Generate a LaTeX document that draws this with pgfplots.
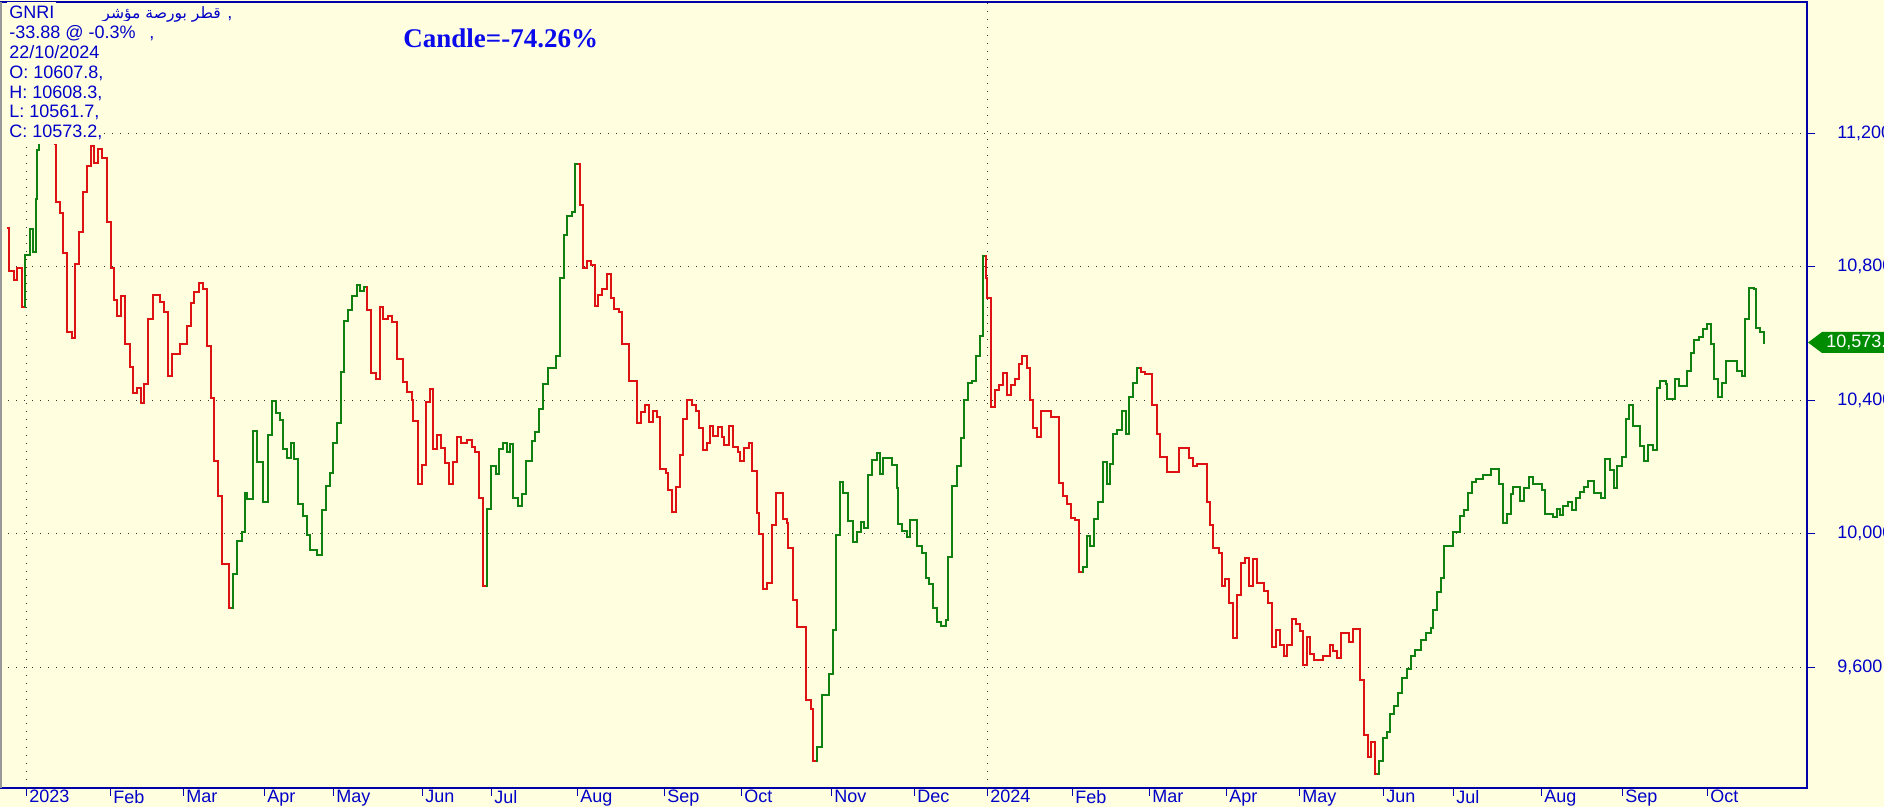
\documentclass[border=0pt]{standalone}
\usepackage{pgfplots}
\pgfplotsset{compat=1.18}
\usepackage{fontspec}
\setmainfont{Liberation Sans}
\newfontfamily\candlefont{Liberation Serif}
\newfontfamily\arabicfont[Script=Arabic]{DejaVu Sans}
\TeXXeTstate=1

\definecolor{bg}{RGB}{255,255,224}
\definecolor{upgreen}{RGB}{16,128,16}
\definecolor{downred}{RGB}{222,18,18}
\definecolor{labelblue}{RGB}{0,0,200}
\definecolor{candleblue}{RGB}{10,10,235}
\definecolor{axisblue}{RGB}{0,0,170}
\definecolor{taggreen}{RGB}{0,140,0}

\newcommand{\lbl}{\fontsize{9}{10.5}\selectfont}

\begin{document}
\begin{tikzpicture}[x=0.5pt,y=0.5pt]
% page = 1884 x 807 px, 1 px = 0.5pt
\fill[bg] (0,0) rectangle (1884,807);

\begin{axis}[
    at={(0pt,9.5pt)}, anchor=south west,
    scale only axis, width=903.5pt, height=393pt,
    xmin=0, xmax=1807, ymin=9237.5, ymax=11594,
    axis background/.style={fill=bg},
    axis line style={draw=axisblue, line width=1pt},
    xtick={26,110,183,264,333,422,491,577,664,741,831,914,987,1072,1149,1226,1299,1383,1453,1541,1622,1707},
    xticklabels={2023,Feb,Mar,Apr,May,Jun,Jul,Aug,Sep,Oct,Nov,Dec,2024,Feb,Mar,Apr,May,Jun,Jul,Aug,Sep,Oct},
    xtick pos=left, xticklabel pos=left,
    ytick={9600,10000,10400,10800,11200},
    yticklabels={{9,600},{10,000},{10,400},{10,800},{11,200}},
    ytick pos=right, yticklabel pos=right,
    tick align=outside, major tick length=4pt,
    tick style={draw=axisblue, line width=0.5pt},
    xticklabel shift=-3pt,
    yticklabel shift=11pt,
    x tick label style={anchor=north west, inner sep=0pt, xshift=1.5pt, font=\lbl, text=labelblue},
    y tick label style={anchor=west, inner sep=0pt, font=\lbl, text=labelblue},
    ymajorgrids,
    extra x ticks={26,987}, extra x tick labels={},
    extra x tick style={xmajorgrids=true, major tick length=0pt},
    grid style={draw=black!80, line width=0.5pt, dash pattern=on 0.5pt off 3.5pt},
    every axis plot/.append style={line width=1pt, const plot},
]
% red = falling phase, green = rising phase; x = pixel column of the bar
\addplot[downred] coordinates {
(7.3,10917) (9.3,10787) (14.3,10760) (17.3,10796) (21.7,10680) (25,10680)
};
\addplot[upgreen] coordinates {
(25,10680) (25.1,10834) (30,10912) (33,10845) (36,11002) (37.3,11150) (39.3,11230)
(42,11290) (46,11320) (49,11320)
};
\addplot[downred] coordinates {
(49,11320) (52,11250) (55,11169) (56,10995) (60,10961) (63.3,10841) (67.3,10606)
(71.7,10586) (75,10807) (79.3,10904) (82.7,11024) (87.3,11102) (90.7,11162)
(94.3,11111) (98.3,11153) (102.3,11126) (106.7,10934) (110.7,10796) (114,10700)
(117.3,10653) (121.3,10713) (125.3,10570) (130,10499) (133.3,10421) (137.3,10438)
(141,10391) (144.3,10450) (148.3,10643) (153.3,10716) (160,10696) (164,10666)
(167.7,10472) (171.7,10539) (180,10570) (186.7,10622) (190.7,10693) (194.3,10724)
(198.7,10751) (203.3,10733) (207.3,10563) (210.7,10407) (214,10217) (218.3,10112)
(221.7,9909) (229.3,9777) (231.3,9777)
};
\addplot[upgreen] coordinates {
(231.3,9777) (233.3,9879) (237.3,9978) (242.3,10005) (245,10123) (247.3,10103)
(252.7,10308) (256.7,10214) (263.3,10094) (267.5,10297) (271.7,10398) (276,10362)
(280,10342) (283.3,10255) (286.7,10228) (290.7,10273) (294.3,10224) (298.3,10090)
(302.7,10053) (306.7,9996) (310,9951) (316.7,9935) (321.7,10070) (325.7,10143)
(330,10181) (333.3,10271) (336.7,10331) (340.7,10485) (344,10637) (348.3,10670)
(352.3,10713) (356.7,10747) (360,10727) (364,10740) (366.7,10740)
};
\addplot[downred] coordinates {
(366.7,10740) (367.3,10670) (371,10483) (375.7,10465) (380,10680) (383.3,10643)
(388.3,10652) (392.3,10635) (396.7,10525) (402.7,10456) (407.3,10425) (411.7,10402)
(413.3,10338) (418.3,10150) (422,10206) (425.7,10395) (430,10434) (432.7,10253)
(436.7,10297) (440.7,10257) (445,10213) (449,10150) (452.7,10214) (456.7,10291)
(460.7,10271) (467.3,10280) (472.3,10261) (475,10244) (479.3,10106) (483.3,9844)
(485.7,9844)
};
\addplot[upgreen] coordinates {
(485.7,9844) (486.7,10074) (491.3,10204) (495.7,10180) (498.7,10255) (503.3,10271)
(506.7,10244) (510,10268) (513.3,10107) (517.7,10083) (522,10120) (525.7,10217)
(531.7,10277) (535,10304) (539.3,10375) (543.3,10448) (548.3,10496) (556,10532)
(560.3,10767) (563.7,10894) (567.3,10952) (571.7,10965) (575,11109) (578.3,11109)
};
\addplot[downred] coordinates {
(578.3,11109) (580,10984) (583.3,10796) (587.3,10818) (590.7,10804) (595,10684)
(598.3,10716) (601.7,10733) (607.3,10778) (610.7,10707) (614.3,10673) (619.3,10664)
(622.3,10569) (629.3,10458) (636.7,10331) (640.7,10365) (645.3,10387) (648.7,10335)
(652.7,10369) (657.3,10351) (660,10193) (665.7,10183) (667.7,10130) (671.7,10065)
(675.7,10141) (680,10237) (683.3,10344) (686.7,10402) (691.7,10385) (695.7,10369)
(699,10318) (702.7,10251) (706.7,10273) (710,10322) (713.3,10294) (718.3,10320)
(721.7,10291) (724,10267) (729.3,10324) (733.3,10261) (738.3,10244) (740,10217)
(744.3,10257) (749,10271) (752.3,10187) (756.7,10063) (759.3,10000) (763.3,9835)
(767.3,9851) (771.7,10026) (776,10123) (782.7,10045) (786.7,10032) (788.3,9956)
(793.3,9801) (797.3,9721) (806,9500) (810.7,9473) (813.3,9319) (815.7,9319)
};
\addplot[upgreen] coordinates {
(815.7,9319) (817.3,9359) (821.7,9517) (829.3,9580) (832.7,9710) (836,9995)
(840,10154) (843.3,10123) (847.7,10039) (852.7,9976) (856.7,10005) (860.7,10036)
(864,10016) (867.7,10177) (871.7,10220) (876.7,10241) (880,10180) (883.3,10226)
(892.3,10206) (896.7,10137) (898.3,10030) (902.3,10009) (907.3,9989) (910,10040)
(917.3,9963) (921.7,9942) (925.7,9868) (929,9848) (932.7,9777) (936.7,9734)
(941,9724) (945.7,9741) (948.3,9929) (952.3,10143) (956.7,10204) (960.7,10287)
(964,10402) (968,10452) (971.7,10458) (976,10532) (980,10593) (982.7,10831) (985,10831)
};
\addplot[downred] coordinates {
(985,10831) (986,10767) (987.3,10707) (990.7,10381) (995,10432) (999.3,10445)
(1003.3,10483) (1007.3,10416) (1011,10445) (1015.3,10465) (1019,10509) (1022.3,10532)
(1026.7,10496) (1030,10402) (1033.3,10318) (1037.3,10291) (1040.7,10367) (1051,10351)
(1059.3,10153) (1063.3,10113) (1067.3,10090) (1071,10047) (1075,10040) (1079.3,9885)
(1081.7,9885)
};
\addplot[upgreen] coordinates {
(1081.7,9885) (1082.7,9899) (1086.7,9993) (1090,9963) (1094,10045) (1098.3,10094)
(1102.7,10214) (1106.7,10150) (1110,10210) (1113.3,10300) (1116.7,10311) (1121.7,10367)
(1125.7,10300) (1129.3,10411) (1133.3,10452) (1136.7,10496) (1139,10496)
};
\addplot[downred] coordinates {
(1139,10496) (1141,10485) (1145,10478) (1152.3,10385) (1156.7,10300) (1160,10230)
(1167.3,10186) (1179.3,10257) (1189,10226) (1193.3,10204) (1197.3,10210) (1206.7,10094)
(1210,10027) (1213.3,9957) (1219,9942) (1221.7,9844) (1225,9864) (1229.3,9791)
(1232.7,9687) (1236.7,9817) (1240.7,9911) (1245,9927) (1249,9842) (1252.7,9925)
(1256.7,9851) (1264.3,9828) (1268.3,9791) (1271.7,9660) (1276,9711) (1280,9667)
(1284,9634) (1287.3,9667) (1291.7,9745) (1295.7,9729) (1300,9707) (1302.7,9607)
(1306.7,9690) (1310,9638) (1314,9620) (1322.7,9634) (1330,9667) (1333.3,9647)
(1337.3,9628) (1341,9703) (1349,9674) (1352.7,9713) (1360,9560) (1364,9396)
(1367.7,9329) (1371,9374) (1375,9278) (1377.3,9278)
};
\addplot[upgreen] coordinates {
(1377.3,9278) (1379,9319) (1383.3,9386) (1387.3,9405) (1390,9458) (1394,9482)
(1398.3,9521) (1402.3,9566) (1406.7,9595) (1411,9634) (1415,9651) (1421,9681)
(1426,9701) (1430.7,9717) (1433.3,9772) (1436.7,9826) (1440.7,9868) (1444.3,9963)
(1453.3,10004) (1460,10053) (1464,10072) (1467.7,10123) (1471.7,10154) (1475.7,10163)
(1483.3,10177) (1491.3,10193) (1499.3,10149) (1502.7,10032) (1506.7,10060) (1510.7,10119)
(1513.3,10139) (1520,10099) (1524,10137) (1529.3,10170) (1532.7,10149) (1541.7,10130)
(1545,10059) (1553.3,10049) (1556.7,10074) (1560,10056) (1563.3,10083) (1568.3,10094)
(1572.3,10072) (1576,10107) (1580,10126) (1584,10139) (1588.3,10157) (1594.3,10123)
(1600.7,10107) (1605,10224) (1610,10190) (1614,10137) (1617.3,10204) (1621.7,10230)
(1625.7,10345) (1629.3,10385) (1633.3,10324) (1640,10264) (1644.3,10217) (1648.3,10267)
(1652.7,10251) (1656.7,10438) (1660,10458) (1666,10449) (1667.3,10405) (1675,10465)
(1679,10442) (1686.7,10488) (1690.7,10542) (1694.3,10582) (1699,10589) (1703.3,10613)
(1707.3,10630) (1710.7,10568) (1714.3,10465) (1718,10410) (1722.3,10452) (1725.7,10518)
(1737.3,10488) (1741.7,10474) (1745,10643) (1748.7,10737) (1754.3,10733) (1756,10617)
(1760,10606) (1764,10573) (1765.3,10573)
};
\end{axis}

% left frame edge
\draw[gray!80, line width=0.75pt] (0.75,19) -- (0.75,805);

% info block, drawn over the line as in the source
\begin{scope}[every node/.style={anchor=base west, fill=bg, inner xsep=1pt, inner ysep=2.2pt, font=\lbl, text=labelblue}]
\node at (7,788) {GNRI};
\node[font=\fontsize{7.8}{9}\selectfont] at (100,788) {\arabicfont\beginR قطر بورصة مؤشر\endR};
\node at (225,788) {,};
\node at (7,768.2) {-33.88 @ -0.3\%};
\node at (147,768.2) {,};
\node at (7,748.4) {22/10/2024};
\node at (7,728.6) {O: 10607.8,};
\node at (7,708.8) {H: 10608.3,};
\node at (7,689) {L: 10561.7,};
\node at (7,669.2) {C: 10573.2,};
\end{scope}

\node[anchor=base west, inner sep=0pt, text=candleblue,
      font=\candlefont\bfseries\fontsize{13.5}{16}\selectfont] at (403,759) {Candle=-74.26\%};

% last-price tag
\fill[taggreen] (1808,464.5) -- (1822,475) -- (1890,475) -- (1890,454) -- (1822,454) -- cycle;
\node[anchor=west, inner sep=0pt, text=white, font=\lbl] at (1826,464.5) {10,573.2};

\pgfresetboundingbox
\useasboundingbox (0,0) rectangle (1884,807);
\end{tikzpicture}
\end{document}
